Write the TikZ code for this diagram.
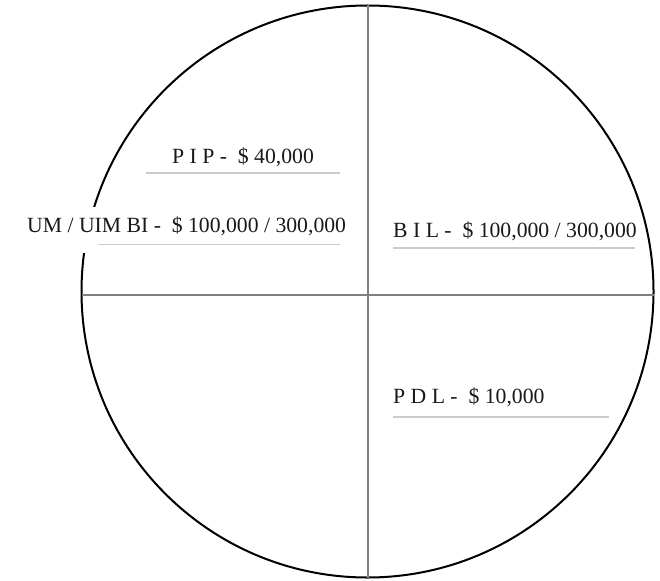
\documentclass[tikz,border=0pt]{standalone}
\usepackage{fontspec}
\setmainfont{Liberation Serif}
\tikzset{
  rim/.style={draw=black, line width=2pt},
  cross/.style={draw=black!50, line width=2pt},
  uline/.style={draw=black!20, line width=1.3pt},
  lbl/.style={anchor=base west, inner xsep=0pt, inner ysep=0pt, font=\fontsize{21.7}{24}\selectfont, text=black!90},
  masklbl/.style={lbl, fill=white, text height=15pt, text depth=11pt, inner ysep=10pt, inner xsep=3pt}
}
\begin{document}
\begin{tikzpicture}[x=1pt,y=-1pt]
\useasboundingbox (0,0) rectangle (660,580);
\fill[white] (0,0) rectangle (660,580);
\coordinate (c) at (367.5,291.5);
\draw[rim] (c) circle[radius=286];
\coordinate (top) at (368,5.5);
\coordinate (bot) at (368,577.5);
\coordinate (lft) at (81.5,295);
\coordinate (rgt) at (653.5,295);
\draw[cross] (top) -- (bot);
\draw[cross] (lft) -- (rgt);
\node[lbl] (pip) at (172,163) {P I P -\ \ \$ 40,000};
\node[masklbl] (um) at (24,232) {UM / UIM BI -\ \ \$ 100,000 / 300,000};
\node[lbl] (bil) at (393,237) {B I L -\ \ \$ 100,000 / 300,000};
\node[lbl] (pdl) at (393,403) {P D L -\ \ \$ 10,000};
\draw[uline] (146,173) -- (340,173);
\draw[uline] (98,244.5) -- (340,244.5);
\draw[uline] (393,248) -- (635,248);
\draw[uline] (393,417) -- (609,417);
\end{tikzpicture}
\end{document}
